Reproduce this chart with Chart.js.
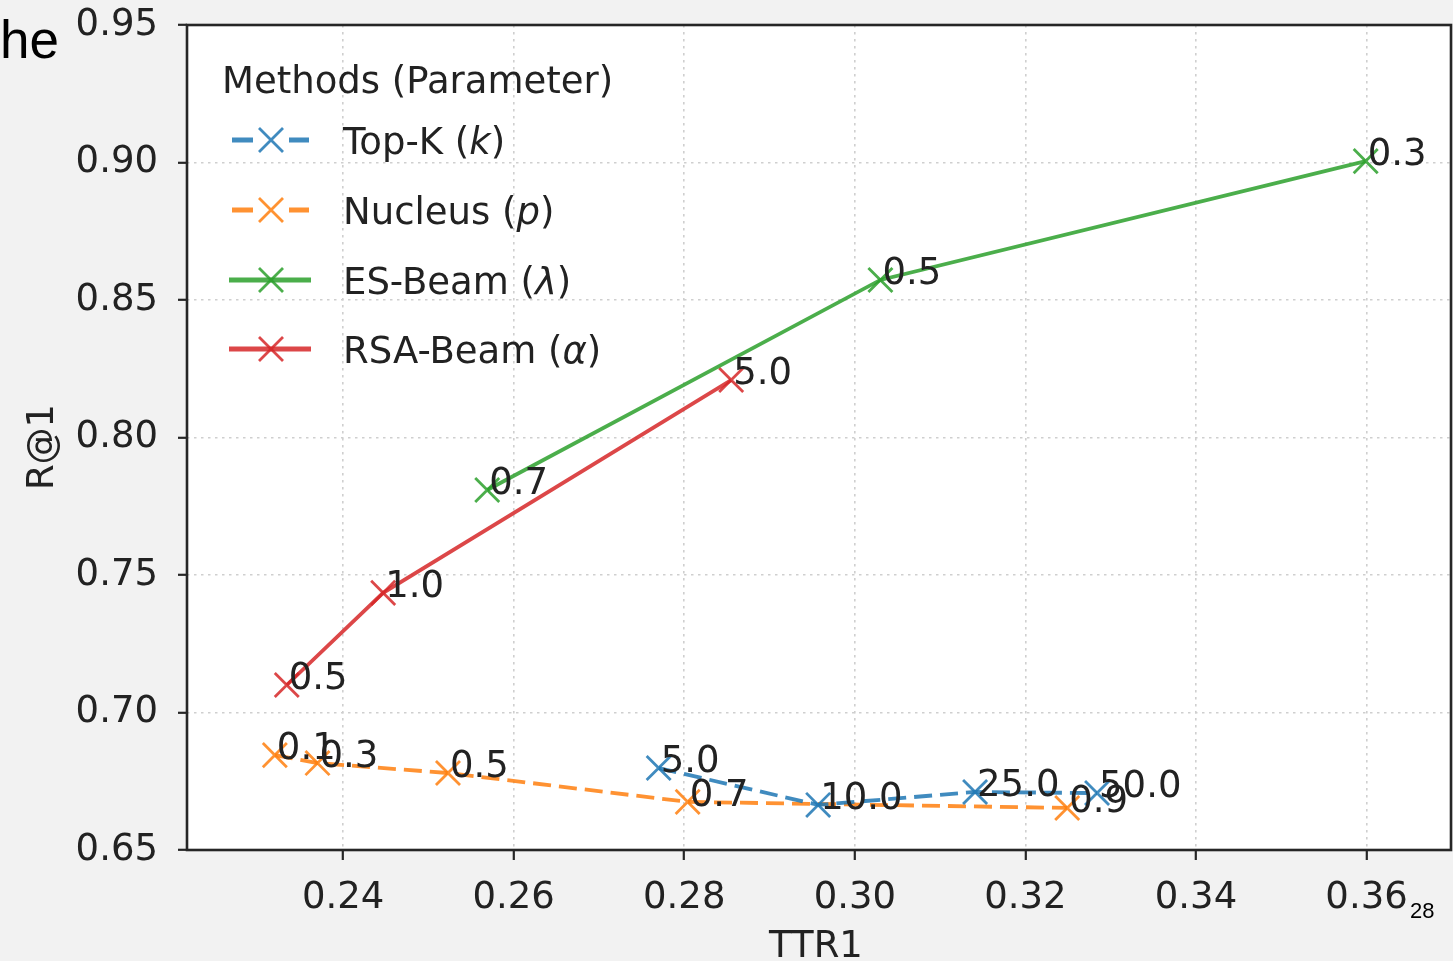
<!DOCTYPE html>
<html>
<head>
<meta charset="utf-8">
<script src="https://cdn.jsdelivr.net/npm/chart.js@4/dist/chart.umd.min.js"></script>
<style>
  html, body { margin: 0; padding: 0; background: #f2f2f2; }
  #wrap { position: relative; width: 1453px; height: 961px; overflow: hidden; }
  canvas { display: block; }
</style>
</head>
<body>
<div id="wrap"><canvas id="c" width="1453" height="961"></canvas></div>
<script>
// ---- data ----
const topkX = [0.2770, 0.2957, 0.3141, 0.3284];
const topkY = [0.6798, 0.6664, 0.6711, 0.6707];
const topkLabels = ["5.0", "10.0", "25.0", "50.0"];

const nucleusX = [0.2320, 0.2370, 0.2523, 0.2804, 0.3249];
const nucleusY = [0.6845, 0.6816, 0.6780, 0.6675, 0.6653];
const nucleusLabels = ["0.1", "0.3", "0.5", "0.7", "0.9"];

const esbeamX = [0.2569, 0.3030, 0.3599];
const esbeamY = [0.7809, 0.8573, 0.9005];
const esbeamLabels = ["0.7", "0.5", "0.3"];

const rsabeamX = [0.2334, 0.2447, 0.2855];
const rsabeamY = [0.7100, 0.7435, 0.8209];
const rsabeamLabels = ["0.5", "1.0", "5.0"];

const xTicks = [0.24, 0.26, 0.28, 0.30, 0.32, 0.34, 0.36];
const yTicks = [0.65, 0.70, 0.75, 0.80, 0.85, 0.90, 0.95];

const seriesNames = ["Top-K", "Nucleus", "ES-Beam", "RSA-Beam"];
const seriesParams = ["k", "p", "λ", "α"];
const legendTitle = "Methods (Parameter)";
const xTitle = "TTR1";
const yTitle = "R@1";

// ---- styling ----
const COLORS = ["rgba(31,119,180,0.85)", "rgba(255,127,14,0.85)", "rgba(44,160,44,0.85)", "rgba(214,39,40,0.85)"];
const DASHED = [true, true, false, false];
const FONT = '"DejaVu Sans", sans-serif';
const TXT = "#222222";

function pts(xs, ys) { return xs.map((x, i) => ({ x: x, y: ys[i] })); }

const allX = [topkX, nucleusX, esbeamX, rsabeamX];
const allY = [topkY, nucleusY, esbeamY, rsabeamY];
const allLabels = [topkLabels, nucleusLabels, esbeamLabels, rsabeamLabels];

const datasets = allX.map((xs, i) => ({
  label: seriesNames[i],
  data: pts(xs, allY[i]),
  showLine: true,
  borderColor: COLORS[i],
  borderWidth: 3.8,
  borderDash: DASHED[i] ? [18, 8] : [],
  tension: 0,
  pointStyle: 'crossRot',
  pointRadius: 17,
  pointBorderWidth: 2.8,
  pointBorderColor: COLORS[i],
  pointBackgroundColor: 'rgba(0,0,0,0)',
  fill: false
}));

function noPad(s) { s.paddingTop = 0; s.paddingBottom = 0; s.paddingLeft = 0; s.paddingRight = 0; }

const decor = {
  id: 'decor',
  beforeDraw(chart) {
    const { ctx, chartArea: a } = chart;
    ctx.save();
    ctx.fillStyle = '#f2f2f2';
    ctx.fillRect(0, 0, chart.width, chart.height);
    ctx.fillStyle = '#ffffff';
    ctx.fillRect(a.left, a.top, a.right - a.left, a.bottom - a.top);
    ctx.restore();
  },
  afterDatasetsDraw(chart) {
    const { ctx } = chart;
    const xs = chart.scales.x, ys = chart.scales.y;
    ctx.save();
    ctx.font = '37px ' + FONT;
    ctx.fillStyle = TXT;
    ctx.textAlign = 'left';
    ctx.textBaseline = 'alphabetic';
    allX.forEach((arr, i) => {
      arr.forEach((v, j) => {
        const px = xs.getPixelForValue(v);
        const py = ys.getPixelForValue(allY[i][j]);
        ctx.fillText(allLabels[i][j], px + 2, py + 4);
      });
    });
    ctx.restore();
  },
  afterDraw(chart) {
    const { ctx, chartArea: a } = chart;
    ctx.save();
    // plot frame
    ctx.strokeStyle = '#262626';
    ctx.lineWidth = 2.6;
    ctx.strokeRect(a.left, a.top, a.right - a.left, a.bottom - a.top);

    // legend
    ctx.fillStyle = TXT;
    ctx.font = '37px ' + FONT;
    ctx.textAlign = 'left';
    ctx.textBaseline = 'alphabetic';
    ctx.fillText(legendTitle, 222, 93);
    const rowY = [140, 210, 280, 349];
    rowY.forEach((y, i) => {
      ctx.strokeStyle = COLORS[i];
      ctx.lineWidth = 5;
      ctx.setLineDash([]);
      ctx.beginPath();
      if (DASHED[i]) {
        ctx.moveTo(232, y); ctx.lineTo(253, y);
        ctx.moveTo(289, y); ctx.lineTo(309, y);
      } else {
        ctx.moveTo(229, y); ctx.lineTo(311, y);
      }
      ctx.stroke();
      ctx.lineWidth = 2.8;
      ctx.beginPath();
      const m = 12;
      ctx.moveTo(271 - m, y - m); ctx.lineTo(271 + m, y + m);
      ctx.moveTo(271 - m, y + m); ctx.lineTo(271 + m, y - m);
      ctx.stroke();
      // text with italic param
      ctx.fillStyle = TXT;
      ctx.font = '37px ' + FONT;
      let tx = 343;
      const base = y + 14;
      const pre = seriesNames[i] + ' (';
      ctx.fillText(pre, tx, base);
      tx += ctx.measureText(pre).width;
      ctx.font = 'italic 37px ' + FONT;
      ctx.fillText(seriesParams[i], tx, base);
      tx += ctx.measureText(seriesParams[i]).width;
      ctx.font = '37px ' + FONT;
      ctx.fillText(')', tx, base);
    });

    // axis titles
    ctx.fillStyle = TXT;
    ctx.font = '37px ' + FONT;
    ctx.textAlign = 'center';
    ctx.fillText(xTitle, 816, 957);
    ctx.save();
    ctx.translate(53, 447);
    ctx.rotate(-Math.PI / 2);
    ctx.fillText(yTitle, 0, 0);
    ctx.restore();

    // page fragments around the figure
    ctx.fillStyle = '#000';
    ctx.textAlign = 'left';
    ctx.font = '53px "Liberation Sans", Arial, sans-serif';
    ctx.fillText('he', 0, 58);
    ctx.font = '22px "Liberation Sans", Arial, sans-serif';
    ctx.fillText('28', 1410, 918);
    ctx.restore();
  }
};

new Chart(document.getElementById('c'), {
  type: 'scatter',
  data: { datasets: datasets },
  options: {
    responsive: false,
    animation: false,
    events: [],
    layout: { autoPadding: false, padding: { top: 25, right: 2, left: 0, bottom: 0 } },
    plugins: { legend: { display: false }, tooltip: { enabled: false } },
    scales: {
      x: {
        type: 'linear',
        min: 0.2217,
        max: 0.3699,
        afterBuildTicks: s => { s.ticks = xTicks.map(v => ({ value: v })); },
        afterFit: s => { s.height = 111; noPad(s); },
        grid: { color: '#cfcfcf', lineWidth: 1.6, tickColor: '#262626', tickWidth: 2.2, tickLength: 10 },
        border: { display: false, dash: [2.5, 4.5] },
        ticks: { color: TXT, font: { family: FONT, size: 37 }, padding: 16, maxRotation: 0, autoSkip: false,
                 callback: v => Number(v).toFixed(2) }
      },
      y: {
        type: 'linear',
        min: 0.65,
        max: 0.95,
        afterBuildTicks: s => { s.ticks = yTicks.map(v => ({ value: v })); },
        afterFit: s => { s.width = 187; noPad(s); },
        grid: { color: '#cfcfcf', lineWidth: 1.6, tickColor: '#262626', tickWidth: 2.2, tickLength: 9 },
        border: { display: false, dash: [2.5, 4.5] },
        ticks: { color: TXT, font: { family: FONT, size: 37 }, padding: 20, autoSkip: false,
                 callback: v => Number(v).toFixed(2) }
      }
    }
  },
  plugins: [decor]
});
</script>
</body>
</html>
